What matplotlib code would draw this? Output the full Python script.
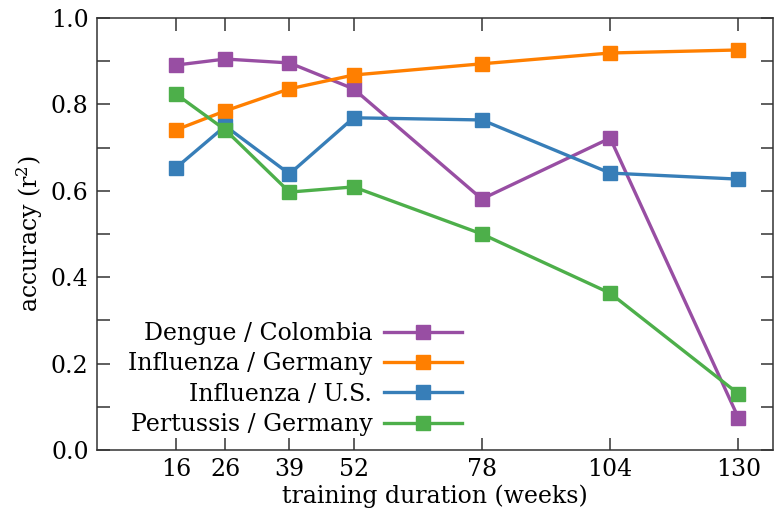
import numpy as np
import matplotlib.pyplot as plt
from matplotlib.ticker import MultipleLocator

weeks = [16, 26, 39, 52, 78, 104, 130]
dengue_colombia = [0.891, 0.905, 0.896, 0.836, 0.581, 0.722, 0.074]
influenza_germany = [0.741, 0.785, 0.836, 0.868, 0.894, 0.919, 0.926]
influenza_us = [0.653, 0.750, 0.639, 0.769, 0.764, 0.641, 0.627]
pertussis_germany = [0.824, 0.741, 0.597, 0.609, 0.500, 0.363, 0.130]

labels = ['Dengue / Colombia', 'Influenza / Germany', 'Influenza / U.S.', 'Pertussis / Germany']
colors = ['#984ea3', '#ff7f00', '#377eb8', '#4daf4a']

plt.rcParams['font.family'] = ['DejaVu Serif']
plt.rcParams['mathtext.fontset'] = 'dejavuserif'

fig = plt.figure(figsize=(7.78, 5.19), dpi=100)
ax = fig.add_axes([97 / 778, 1 - 450 / 519, (773 - 97) / 778, (450 - 18) / 519])

series = [dengue_colombia, influenza_germany, influenza_us, pertussis_germany]
for vals, lab, c in zip(series, labels, colors):
    ax.plot(weeks, vals, '-s', color=c, lw=2.4, ms=9.5, label=lab)

ax.set_xlim(0, 137)
ax.set_ylim(0, 1.0)
ax.set_xticks(weeks)
ax.yaxis.set_major_locator(MultipleLocator(0.2))
ax.yaxis.set_minor_locator(MultipleLocator(0.1))
ax.yaxis.set_major_formatter(plt.FuncFormatter(lambda v, p: '%.1f' % v))
ax.tick_params(which='both', direction='in', top=True, right=True, length=9, width=1.1,
               labelsize=17, pad=6, color='#333333')
for s in ax.spines.values():
    s.set_linewidth(1.1)
    s.set_color('#333333')

ax.set_xlabel('training duration (weeks)', fontsize=17, labelpad=2)
ax.set_ylabel('accuracy (r$^2$)', fontsize=17, labelpad=4)

ax.legend(loc='lower left', bbox_to_anchor=(0.025, 0.0), frameon=False, markerfirst=False,
          fontsize=17, handlelength=3.3, handletextpad=0.5, labelspacing=0.31, borderaxespad=0.2)

fig.savefig('out.png', dpi=100)
